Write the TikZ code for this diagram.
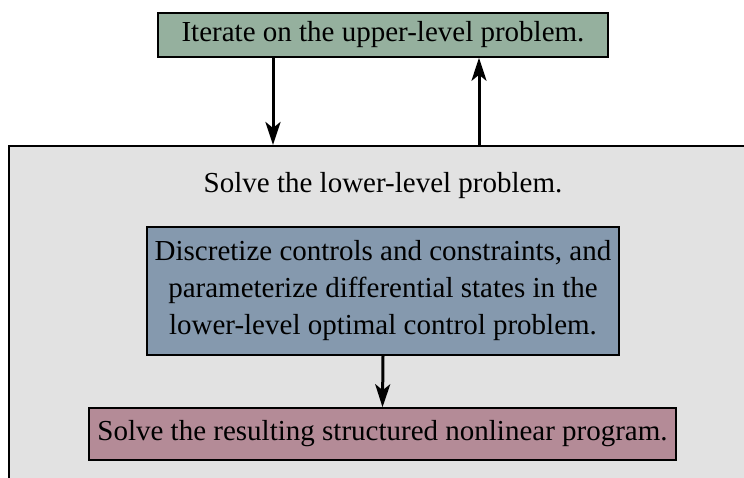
\documentclass[tikz,border=0pt]{standalone}
\usepackage{fontspec}
\setmainfont{Liberation Serif}
\usetikzlibrary{arrows.meta}
\definecolor{uppergreen}{HTML}{95B09E}
\definecolor{discblue}{HTML}{8599AE}
\definecolor{nlppink}{HTML}{B48B97}
\definecolor{lowergray}{HTML}{E2E2E2}
\tikzset{
  stepbox/.style={draw=black, line width=1.6pt, rectangle, inner sep=0pt,
    align=center, font=\fontsize{29}{37}\selectfont},
  flow/.style={line width=3pt, -{Stealth[length=23pt,width=15pt,inset=6pt]}},
}
\begin{document}
\begin{tikzpicture}[x=1pt, y=-1pt]
  \useasboundingbox (0,0) rectangle (744,477);
  \clip (0,0) rectangle (744,477);

  % container for the lower-level solve (runs past the page edge)
  \node[draw=black, line width=2.4pt, fill=lowergray, rectangle, inner sep=0pt,
        minimum width=800pt, minimum height=360pt, anchor=north west]
        (lower) at (8,145) {};
  \node[font=\fontsize{29}{37}\selectfont] (lowertitle) at (383,186)
        {Solve the lower-level problem.};

  % upper-level iteration
  \node[stepbox, fill=uppergreen, minimum width=450pt, minimum height=44pt]
        (upper) at (383,35) {Iterate on the upper-level problem.};

  % discretisation step
  \node[stepbox, fill=discblue, minimum width=472pt, minimum height=128pt]
        (disc) at (383,291) {Discretize controls and constraints, and\\
        parameterize differential states in the\\
        lower-level optimal control problem.};

  % nonlinear program
  \node[stepbox, fill=nlppink, minimum width=587pt, minimum height=52pt]
        (nlp) at (382.5,434) {Solve the resulting structured nonlinear program.};

  % connectors
  \draw[flow] ([xshift=-110pt]upper.south) -- ([xshift=-110pt]upper.south |- lower.north);
  \draw[flow] ([xshift=96pt]upper.south |- lower.north) -- ([xshift=96pt]upper.south);
  \draw[flow] (disc.south) -- (nlp.north);
\end{tikzpicture}
\end{document}
